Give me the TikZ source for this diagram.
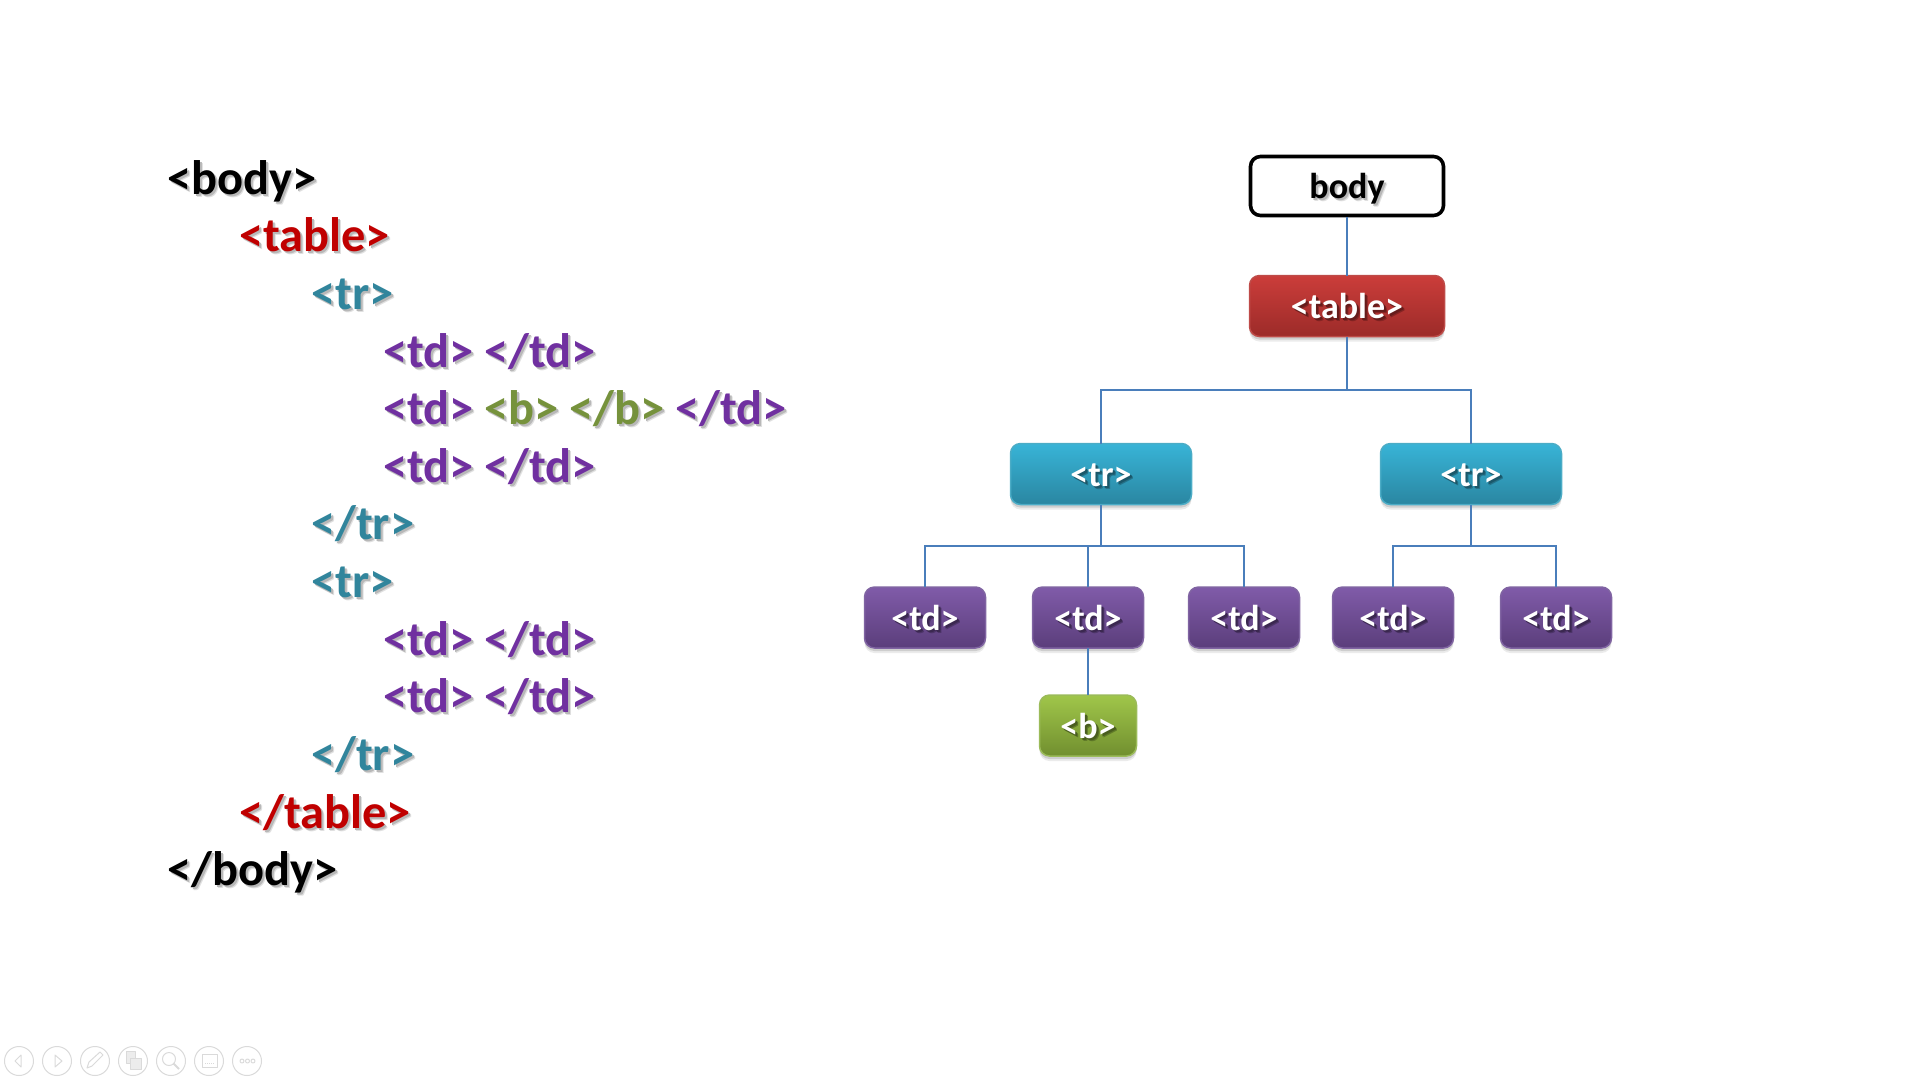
\documentclass[tikz,border=0pt]{standalone}
\usepackage{xcolor}
\usepackage{fontspec}
\setmainfont{Carlito}
\usetikzlibrary{calc,shadows}
\definecolor{codered}{HTML}{C00000}
\definecolor{codeteal}{HTML}{31859C}
\definecolor{codepurple}{HTML}{7030A0}
\definecolor{codegreen}{HTML}{76923C}
\definecolor{conncol}{HTML}{4A7EBB}
\definecolor{iconcol}{HTML}{DADADA}
\definecolor{tabletop}{HTML}{CB3D3A}
\definecolor{tablebot}{HTML}{9C2B29}
\definecolor{tableedge}{HTML}{BE4B48}
\definecolor{trtop}{HTML}{38B4D7}
\definecolor{trbot}{HTML}{2A86A1}
\definecolor{tredge}{HTML}{4BACC6}
\definecolor{tdtop}{HTML}{805BA9}
\definecolor{tdbot}{HTML}{5B3E7B}
\definecolor{tdedge}{HTML}{8064A2}
\definecolor{btop}{HTML}{A0C64A}
\definecolor{bbot}{HTML}{718F2F}
\definecolor{bedge}{HTML}{9BBB59}
\newcommand{\softshadow}[3]{\makebox[0pt][l]{\hspace{3pt}\raisebox{-3pt}{\textcolor{#2}{#3}}}\makebox[0pt][l]{\hspace{2pt}\raisebox{-2pt}{\textcolor{#1}{#3}}}#3}
\newcommand{\codetag}[2]{\textcolor{#1}{\softshadow{black!28}{black!12}{#2}}}
\newcommand{\boxtag}[2]{\softshadow{#1!65!black}{#1!85!black}{#2}}
\tikzset{
  conn/.style={draw=conncol, line width=1.7pt},
  boxshadow/.style={general shadow={shadow xshift=0pt, shadow yshift=-3pt, fill=black, opacity=0.12},
    general shadow={shadow xshift=0pt, shadow yshift=-5pt, fill=black, opacity=0.08}},
  box/.style={rounded corners=10pt, line width=1.5pt, inner sep=0pt, outer sep=0pt, minimum height=61pt,
    text height=26pt, text depth=1pt, font=\fontsize{36}{40}\selectfont\bfseries, text=white, boxshadow},
  tablebox/.style={box, draw=tableedge, top color=tabletop, bottom color=tablebot, minimum width=195pt},
  trbox/.style={box, draw=tredge, top color=trtop, bottom color=trbot, minimum width=181pt},
  tdbox/.style={box, draw=tdedge, top color=tdtop, bottom color=tdbot},
  bbox/.style={box, draw=bedge, top color=btop, bottom color=bbot, minimum width=97pt},
  bodybox/.style={rounded corners=10pt, draw=black, line width=3.6pt, fill=white, inner sep=0pt, minimum width=193pt, minimum height=59pt,
    text height=26pt, text depth=2pt, font=\fontsize{36}{40}\selectfont\bfseries},
  codeline/.style={anchor=base west, inner sep=0pt, font=\fontsize{48.4}{52}\selectfont\bfseries},
  icon/.style={draw=iconcol, line width=1pt, line join=round}
}
\begin{document}
\begin{tikzpicture}[x=1pt,y=-1pt]
  \useasboundingbox (0,0) rectangle (1920,1080);
  % code on the left
  \foreach \i/\x/\y/\col/\txt in {
    1/167/194/black/{<body>}, 2/239/251.6/codered/{<table>}, 3/311/309/codeteal/{<tr>},
    4/383/367/codepurple/{<td> </td>}, 6/383/482/codepurple/{<td> </td>},
    7/311/539.7/codeteal/{</tr>}, 8/311/597/codeteal/{<tr>},
    9/383/655/codepurple/{<td> </td>}, 10/383/712.6/codepurple/{<td> </td>},
    11/311/770/codeteal/{</tr>}, 12/239/828/codered/{</table>}, 13/167/885/black/{</body>}}
    \node[codeline] (line\i) at (\x,\y) {\codetag{\col}{\txt}};
  \node[codeline] (line5) at (383,424.5) {\codetag{codepurple}{<td>} \codetag{codegreen}{<b> </b>} \codetag{codepurple}{</td>}};
  % tree on the right
  \node[bodybox] (body) at (1347,186) {\softshadow{black!28}{black!12}{body}};
  \node[tablebox] (table) at (1347,306) {\boxtag{tablebot}{<table>}};
  \node[trbox] (trA) at (1101,474) {\boxtag{trbot}{<tr>}};
  \node[trbox] (trB) at (1471,474) {\boxtag{trbot}{<tr>}};
  \node[tdbox, minimum width=121pt] (tdA) at (925,617.5) {\boxtag{tdbot}{<td>}};
  \node[tdbox, minimum width=111pt] (tdB) at (1088,617.5) {\boxtag{tdbot}{<td>}};
  \node[tdbox, minimum width=111pt] (tdC) at (1244,617.5) {\boxtag{tdbot}{<td>}};
  \node[tdbox, minimum width=121pt] (tdD) at (1393,617.5) {\boxtag{tdbot}{<td>}};
  \node[tdbox, minimum width=111pt] (tdE) at (1556,617.5) {\boxtag{tdbot}{<td>}};
  \node[bbox] (bold) at (1088,725.5) {\boxtag{bbot}{<b>}};
  \coordinate (busT) at (1347,390);
  \coordinate (busA) at (1101,546);
  \coordinate (busB) at (1471,546);
  \draw[conn] (body.south) -- (table.north);
  \draw[conn] (table.south) -- (busT);
  \draw[conn] (trA.north) |- (busT) -| (trB.north);
  \draw[conn] (trA.south) -- (busA);
  \draw[conn] (tdA.north) |- (busA) -| (tdC.north);
  \draw[conn] (tdB.north) -- (tdB.north |- busA);
  \draw[conn] (trB.south) -- (busB);
  \draw[conn] (tdD.north) |- (busB) -| (tdE.north);
  \draw[conn] (tdB.south) -- (bold.north);
  % slide show buttons
  \foreach \x in {19,57,95,133,171,209,247}
    \draw[icon] (\x,1061) circle (14.5);
  \draw[icon] (21,1055) -- (15,1061) -- (21,1067) -- cycle;
  \draw[icon] (55,1055) -- (62,1061) -- (55,1067) -- cycle;
  \draw[icon] (87,1068) -- (89,1062) -- (100,1052) -- (103,1055) -- (92,1066) -- cycle;
  \draw[icon, fill=iconcol!50] (126,1051) rectangle (135,1063);
  \draw[icon, fill=iconcol!50] (130,1058) rectangle (141,1069);
  \draw[icon] (169,1059) circle (6.5);
  \draw[icon, line width=2pt] (173.5,1063.5) -- (179,1069);
  \draw[icon] (202,1054) rectangle (217,1067);
  \draw[icon, densely dotted] (205,1063) -- (214,1063);
  \foreach \x in {242,247.5,253}
    \draw[icon] (\x,1061) circle (2);
\end{tikzpicture}
\end{document}
